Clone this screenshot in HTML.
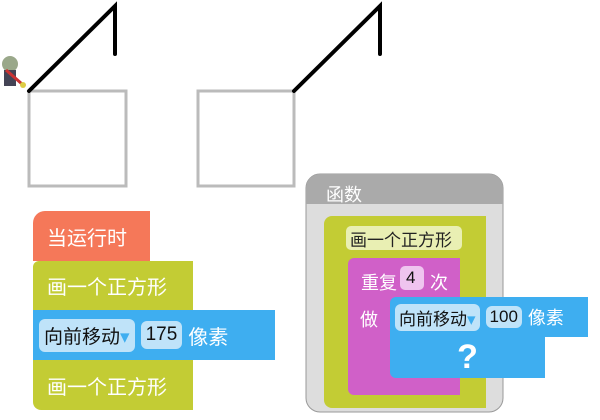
<!DOCTYPE html><html><head><meta charset="utf-8"><style>
body{margin:0;width:600px;height:420px;background:#fff;position:relative;overflow:hidden;font-family:"Liberation Sans","Noto Sans CJK SC",sans-serif}
.b{position:absolute;box-sizing:border-box;color:#fff;font-size:20px;display:flex;align-items:center;padding-left:14px}
.p{background:#bfe3f9;color:#111;border-radius:6px;padding:3px 5px;margin-right:6px;font-size:19px}
.t{position:absolute;color:#fff;font-size:18px}
</style></head><body>
<svg width="600" height="420" style="position:absolute;left:0;top:0">
<g fill="none" stroke="#bbb" stroke-width="3"><rect x="29" y="91" width="97" height="95"/><rect x="198" y="91" width="96" height="95"/></g>
<g fill="none" stroke="#000" stroke-width="4" stroke-linecap="round"><polyline points="29,91 115,6 115,54"/><polyline points="294,91 380,6 380,54"/></g>
<circle cx="10" cy="64" r="8" fill="#9aa88a"/><rect x="4" y="70" width="12" height="16" fill="#445"/><line x1="6" y1="70" x2="22" y2="84" stroke="#c33" stroke-width="3"/><circle cx="23" cy="85" r="3" fill="#dc4"/>
<rect x="306" y="174" width="197" height="238" rx="14" fill="#ddd" stroke="#999" stroke-width="1"/>
<path d="M306,204 V188 a14,14 0 0 1 14,-14 H489 a14,14 0 0 1 14,14 V204Z" fill="#aaa"/>
</svg>
<div class="b" style="left:33px;top:211px;width:117px;height:50px;background:#f57859;border-radius:12px 0 0 0">当运行时</div>
<div class="b" style="left:33px;top:261px;width:160px;height:49px;background:#c3cc34;border-radius:6px 0 0 0">画一个正方形</div>
<div class="b" style="left:33px;top:310px;width:242px;height:50px;background:#3eaef0;padding-left:6px"><span class="p">向前移动<span style="color:#3eaef0">▾</span></span><span class="p">175</span>像素</div>
<div class="b" style="left:33px;top:360px;width:160px;height:50px;background:#c3cc34;border-radius:0 0 0 8px">画一个正方形</div>
<div class="t" style="left:326px;top:181px">函数</div>
<div class="b" style="left:324px;top:216px;width:162px;height:192px;background:#c3cc34;border-radius:8px 0 0 8px"></div>
<div class="b" style="left:346px;top:226px;width:116px;height:24px;background:#e9efb3;color:#222;font-size:17px;padding-left:4px;border-radius:5px">画一个正方形</div>
<div class="b" style="left:348px;top:258px;width:112px;height:137px;background:#d060c8;border-radius:6px 0 0 6px"></div>
<div class="t" style="left:361px;top:269px">重复</div>
<div class="b" style="left:400px;top:266px;width:24px;height:24px;background:#efc4ef;color:#111;border-radius:5px;padding-left:6px;font-size:17px">4</div>
<div class="t" style="left:430px;top:269px">次</div>
<div class="t" style="left:360px;top:306px">做</div>
<div class="b" style="left:390px;top:297px;width:198px;height:40px;background:#3eaef0;padding-left:5px;font-size:18px;border-radius:6px 0 0 0"><span class="p" style="font-size:17px;padding:1px 4px">向前移动<span style="color:#3eaef0">▾</span></span><span class="p" style="font-size:17px;padding:1px 4px">100</span>像素</div>
<div class="b" style="left:390px;top:337px;width:155px;height:41px;background:#3eaef0;border-radius:0 0 0 6px;justify-content:center;padding:0;font-size:34px;font-weight:bold">?</div>
</body></html>
